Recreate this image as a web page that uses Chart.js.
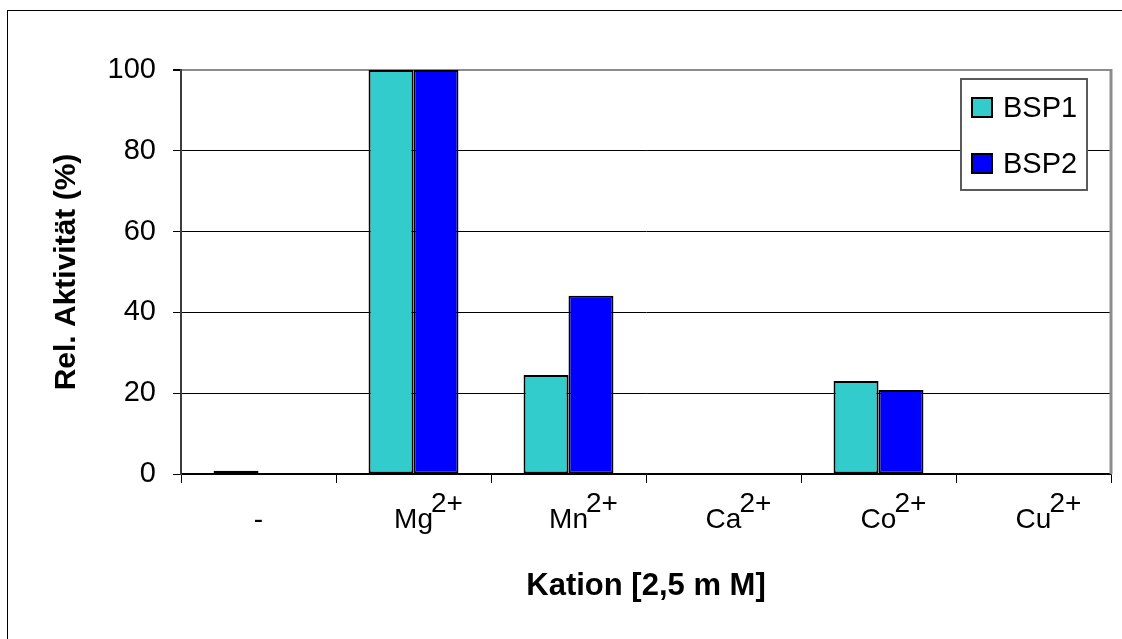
<!DOCTYPE html>
<html>
<head>
<meta charset="utf-8">
<script src="https://cdn.jsdelivr.net/npm/chart.js@4.4.1/dist/chart.umd.min.js"></script>
<style>
  html, body { margin: 0; padding: 0; background: #fff; }
  canvas { display: block; }
</style>
</head>
<body>
<canvas id="c" width="1122" height="639"></canvas>
<script>
// Cations tested (base symbol + charge written as superscript)
const categories = ['-', 'Mg', 'Mn', 'Ca', 'Co', 'Cu'];
const charges = ['', '2+', '2+', '2+', '2+', '2+'];

// Relative activity (%) per enzyme
const bsp1Values = [0.8, 100, 24.5, 0, 23.0, 0];
const bsp2Values = [0, 100, 44.1, 0, 20.8, 0];

const yTickValues = [0, 20, 40, 60, 80, 100];

const FONT = '"Liberation Sans", Arial, Helvetica, sans-serif';

// White page with a thin frame around the whole chart
const frame = {
  id: 'frame',
  beforeDraw(chart) {
    const ctx = chart.ctx;
    ctx.save();
    ctx.fillStyle = '#fff';
    ctx.fillRect(0, 0, chart.width, chart.height);
    ctx.strokeStyle = '#000';
    ctx.lineWidth = 1;
    ctx.strokeRect(7.5, 10.5, chart.width + 20, chart.height + 20);
    ctx.restore();
  },
  afterDatasetsDraw(chart) {
    // grey right edge of the plot area
    const { ctx, chartArea } = chart;
    ctx.save();
    ctx.strokeStyle = '#8c8c8c';
    ctx.lineWidth = 3;
    ctx.beginPath();
    ctx.moveTo(chartArea.right, chartArea.top - 1);
    ctx.lineTo(chartArea.right, chartArea.bottom);
    ctx.stroke();
    ctx.restore();
  }
};

// Category labels with superscript charges
const cationLabels = {
  id: 'cationLabels',
  afterDraw(chart) {
    const { ctx, chartArea } = chart;
    const xs = chart.scales.x;
    ctx.save();
    ctx.fillStyle = '#000';
    ctx.font = '28px ' + FONT;
    ctx.textBaseline = 'alphabetic';
    categories.forEach((name, i) => {
      const cx = xs.getPixelForValue(i);
      const w = ctx.measureText(name).width;
      ctx.textAlign = 'center';
      ctx.fillText(name, cx, chartArea.bottom + 54);
      if (charges[i]) {
        ctx.textAlign = 'left';
        ctx.fillText(charges[i], cx + w / 2 - 2, chartArea.bottom + 38);
      }
    });
    ctx.restore();
  }
};

// Boxed legend inside the upper right of the plot area
const boxLegend = {
  id: 'boxLegend',
  afterDraw(chart) {
    const { ctx, chartArea } = chart;
    const right = chartArea.right - 24;
    const top = chartArea.top + 9;
    const w = 126, h = 111;
    const left = right - w;
    ctx.save();
    ctx.fillStyle = '#fff';
    ctx.fillRect(left, top, w, h);
    ctx.strokeStyle = '#5a5a5a';
    ctx.lineWidth = 2;
    ctx.strokeRect(left, top, w, h);
    ctx.font = '29px ' + FONT;
    ctx.textBaseline = 'middle';
    ctx.textAlign = 'left';
    chart.data.datasets.forEach((ds, i) => {
      const cy = top + 28.5 + i * 56;
      ctx.fillStyle = ds.backgroundColor;
      ctx.fillRect(left + 11, cy - 9.5, 20, 19);
      ctx.strokeStyle = '#000';
      ctx.lineWidth = 2;
      ctx.strokeRect(left + 11, cy - 9.5, 20, 19);
      ctx.fillStyle = '#000';
      ctx.fillText(ds.label, left + 42, cy + 1);
    });
    ctx.restore();
  }
};

new Chart(document.getElementById('c'), {
  type: 'bar',
  data: {
    labels: categories,
    datasets: [
      {
        label: 'BSP1',
        data: bsp1Values,
        backgroundColor: '#33CCCC',
        borderColor: '#000',
        borderWidth: 2,
        borderSkipped: false
      },
      {
        label: 'BSP2',
        data: bsp2Values,
        backgroundColor: '#0000FF',
        borderColor: '#000',
        borderWidth: 2,
        borderSkipped: false
      }
    ]
  },
  options: {
    responsive: false,
    animation: false,
    events: [],
    layout: { padding: { left: 0, top: 70, right: 11, bottom: 0 } },
    datasets: { bar: { categoryPercentage: 0.58, barPercentage: 1 } },
    plugins: {
      legend: { display: false },
      tooltip: { enabled: false },
      title: { display: false }
    },
    scales: {
      x: {
        offset: true,
        grid: {
          offset: true,
          drawOnChartArea: false,
          drawTicks: true,
          tickLength: 9,
          color: '#000',
          lineWidth: 1
        },
        border: { display: true, color: '#000', width: 1.5 },
        ticks: { display: false },
        title: {
          display: true,
          text: 'Kation [2,5 m M]',
          color: '#000',
          font: { family: FONT, size: 31, weight: 'bold' },
          padding: { top: 0, bottom: 34 }
        },
        afterFit(scale) { scale.height = 165; }
      },
      y: {
        min: 0,
        max: 100,
        afterBuildTicks(scale) {
          scale.ticks = yTickValues.map(v => ({ value: v }));
        },
        grid: {
          color: ctx => (ctx.tick && ctx.tick.value === 100 ? '#8c8c8c' : '#000'),
          lineWidth: ctx => (ctx.tick && ctx.tick.value === 100 ? 2 : 1),
          tickColor: '#000',
          tickLength: 8,
          drawTicks: true
        },
        border: { display: true, color: '#3c3c3c', width: 2 },
        ticks: {
          color: '#000',
          padding: 17,
          font: { family: FONT, size: 29 }
        },
        title: {
          display: true,
          text: 'Rel. Aktivität (%)',
          color: '#000',
          font: { family: FONT, size: 30, weight: 'bold' },
          padding: { top: 49, bottom: 0 }
        },
        afterFit(scale) { scale.width = 181; }
      }
    }
  },
  plugins: [frame, cationLabels, boxLegend]
});
</script>
</body>
</html>
